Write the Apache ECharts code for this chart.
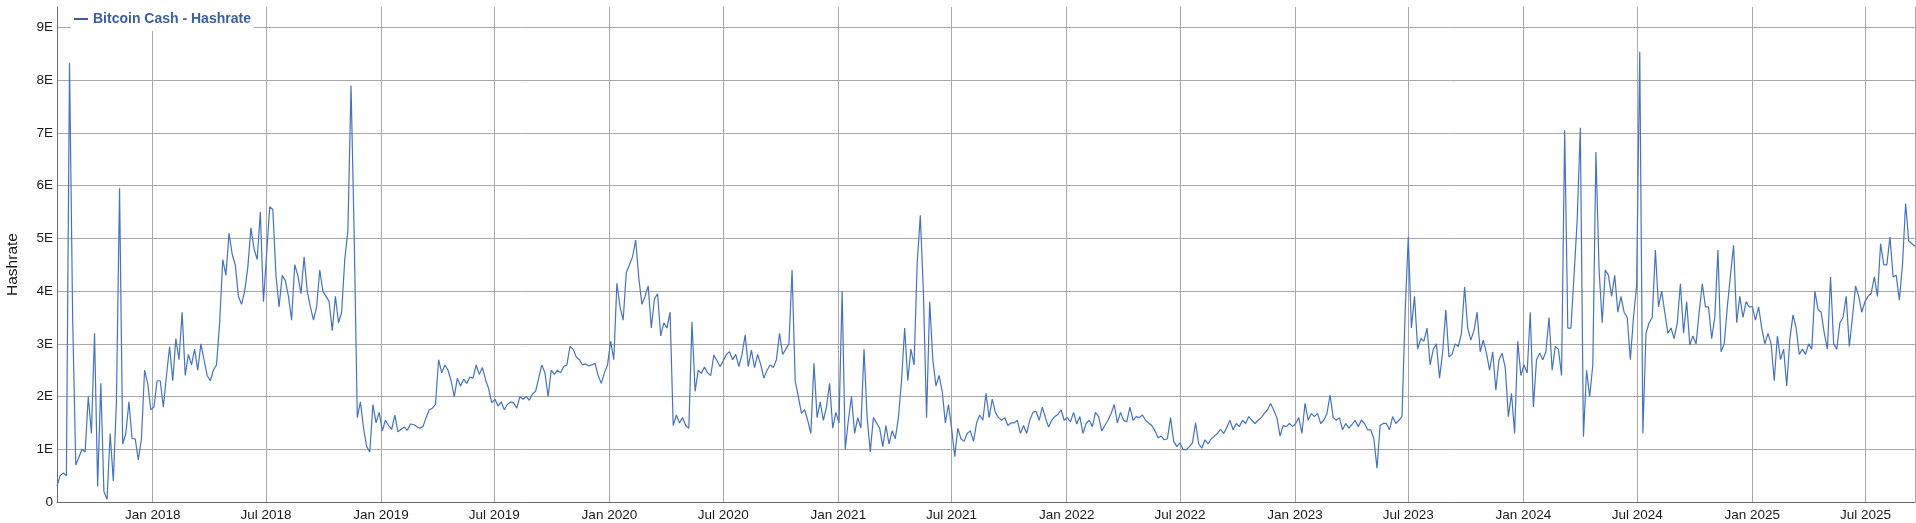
<!DOCTYPE html>
<html>
<head>
<meta charset="utf-8">
<script src="https://cdn.jsdelivr.net/npm/echarts@6/dist/echarts.min.js"></script>
<style>
html,body{margin:0;padding:0;background:#fff;}
#chart{width:1916px;height:523px;}
</style>
</head>
<body>
<div id="chart"></div>
<script>
// Bitcoin Cash hashrate (in E = 1e18 H/s), one value every 5 days from 2017-08-01
const seriesName = 'Bitcoin Cash - Hashrate';
const startDate = '2017-08-01';
const stepDays = 5;

const hashPartA = [0.3,0.5,0.55,0.5,8.33,3.5,0.7,0.85,1.0,0.95,
2.0,1.3,3.2,0.3,2.25,0.2,0.05,1.3,0.4,1.9,
5.95,1.1,1.3,1.9,1.2,1.2,0.8,1.2,2.5,2.25,
1.75,1.8,2.3,2.3,1.8,2.4,2.95,2.3,3.1,2.7,
3.6,2.4,2.8,2.6,2.9,2.5,3.0,2.7,2.4,2.3,
2.5,2.6,3.4,4.6,4.3,5.1,4.7,4.5,3.9,3.75,
4.0,4.45,5.2,4.8,4.6,5.5,3.8,4.7,5.6,5.55,
4.3,3.7,4.3];
const hashPartB = [4.2,3.9,3.45,4.5,4.3,3.95,4.65,
4.0,3.7,3.45,3.7,4.4,4.0,3.9,3.8,3.25,3.9,
3.4,3.6,4.6,5.15,7.9,5.1,1.6,1.9,1.4,1.05,
0.95,1.85,1.5,1.7,1.35,1.55,1.45,1.38,1.65,1.33,
1.38,1.42,1.36,1.48,1.47,1.43,1.4,1.43,1.6,1.75,
1.78,1.85,2.7,2.45,2.6,2.5,2.3,2.0,2.35,2.2,
2.33,2.25,2.37,2.35,2.6,2.42,2.55,2.32,2.15,1.88,
1.95,1.82,1.9,1.75,1.85,1.9];
const hashPartC = [1.88,1.78,2.0,1.95,
2.0,1.93,2.05,2.1,2.35,2.6,2.45,2.0,2.5,2.42,
2.5,2.45,2.57,2.6,2.95,2.9,2.75,2.7,2.6,2.62,
2.58,2.6,2.63,2.4,2.25,2.45,2.6,3.05,2.7,4.15,
3.7,3.45,4.35,4.5,4.65,4.97,4.25,3.75,3.9,4.1,
3.3,3.85,3.95,3.15,3.4,3.3,3.6,1.45,1.65,1.5,
1.6,1.45,1.4,3.42,2.1,2.5,2.44,2.56,2.45,2.4,
2.79,2.68,2.57,2.68,2.8,2.85,2.7,2.8,2.57];
const hashPartD = [2.8,
3.17,2.57,2.88,2.55,2.8,2.6,2.35,2.5,2.6,2.55,
2.7,3.2,2.8,2.9,3.0,4.4,2.3,2.0,1.68,1.75,
1.55,1.3,2.63,1.6,1.9,1.55,1.8,2.25,1.4,1.7,
1.5,4.0,1.0,1.55,2.0,1.3,1.6,1.4,2.9,1.6,
0.95,1.6,1.5,1.4,1.05,1.45,1.1,1.35,1.2,1.6,
2.3,3.3,2.3,2.9,2.6,4.53,5.44,3.95,1.6,3.8,
2.7,2.2,2.4,2.1,1.5,1.85,1.4,0.86,1.4,1.2,
1.15,1.3];
const hashPartE = [1.35,1.15,1.5,1.65,1.55,2.06,1.6,1.95,
1.7,1.6,1.55,1.6,1.45,1.5,1.5,1.55,1.3,1.45,
1.3,1.55,1.7,1.72,1.55,1.8,1.6,1.42,1.55,1.62,
1.66,1.75,1.55,1.6,1.52,1.7,1.48,1.62,1.3,1.49,
1.55,1.43,1.7,1.62,1.35,1.45,1.55,1.68,1.85,1.5,
1.7,1.55,1.52,1.8,1.55,1.62,1.6,1.65,1.55,1.5,
1.45,1.35,1.22,1.25,1.18,1.2,1.6,1.15,1.05,1.12,
1.0,0.99,1.05,1.12,1.5];
const hashPartF = [1.1,1.02,1.18,1.1,1.2,
1.25,1.3,1.38,1.3,1.42,1.55,1.37,1.49,1.43,1.55,
1.49,1.62,1.55,1.49,1.55,1.6,1.68,1.75,1.87,1.74,
1.6,1.25,1.45,1.43,1.49,1.43,1.49,1.6,1.3,1.87,
1.55,1.68,1.62,1.68,1.49,1.55,1.68,2.03,1.6,1.55,
1.6,1.37,1.49,1.4,1.47,1.55,1.43,1.55,1.49,1.37,
1.37,1.2,0.64,1.45,1.49,1.49,1.37,1.62,1.49,1.55,
1.62,3.6,5.03,3.3,3.9,2.9,3.1,3.05];
const hashPartG = [3.3,2.6,
2.9,3.0,2.35,2.85,3.64,2.75,2.8,3.0,2.95,3.2,
4.08,3.3,3.07,3.25,3.6,2.85,3.07,2.82,2.5,2.85,
2.12,2.7,2.82,2.55,1.62,2.06,1.3,3.05,2.4,2.6,
2.45,3.6,1.8,2.7,2.82,2.7,2.85,3.5,2.5,2.95,
2.9,2.4,7.05,3.3,3.3,4.3,5.35,7.1,1.24,2.5,
2.0,2.6,6.64,4.4,3.4,4.4,4.3,3.9,4.3,3.6,
3.9,3.6,3.5,2.7,3.5,4.1,8.54,1.3,3.2,3.4,
3.5];
const hashPartH = [4.78,3.7,4.0,3.6,3.2,3.3,3.1,3.4,4.14,
3.2,3.8,2.98,3.15,3.0,3.6,4.14,3.7,3.7,3.1,
3.5,4.78,2.85,3.0,3.7,4.3,4.87,3.4,3.9,3.5,
3.8,3.7,3.7,3.45,3.7,3.3,3.0,3.2,3.0,2.3,
3.15,2.7,2.9,2.2,3.1,3.55,3.3,2.8,2.9,2.8,
3.0,2.9,4.0,3.65,3.6,3.2,2.9,4.27,3.0,2.9,
3.4,3.5,3.9,2.95,3.5,4.1,3.9,3.6,3.8,3.9,
3.96,4.27,3.9,4.9,4.5,4.5,5.03,4.27,4.3,3.83,
4.5,5.66,4.95,4.9,4.85];

const xTickDates = ['2018-01-01','2018-07-01','2019-01-01','2019-07-01','2020-01-01','2020-07-01',
'2021-01-01','2021-07-01','2022-01-01','2022-07-01','2023-01-01','2023-07-01',
'2024-01-01','2024-07-01','2025-01-01','2025-07-01'];
const yTicks = [0,1,2,3,4,5,6,7,8,9];
const yMax = 9.39;
const monthNames = ['Jan','Feb','Mar','Apr','May','Jun','Jul','Aug','Sep','Oct','Nov','Dec'];

const values = [].concat(hashPartA, hashPartB, hashPartC, hashPartD, hashPartE, hashPartF, hashPartG, hashPartH);
const t0 = Date.parse(startDate + 'T00:00:00Z');
const DAY = 86400000;
const data = values.map((v, i) => [t0 + i * stepDays * DAY, v]);
const tickTimes = xTickDates.map(d => Date.parse(d + 'T00:00:00Z'));

const chart = echarts.init(document.getElementById('chart'), null, {renderer: 'canvas'});
const FONT = '"Liberation Sans", Arial, sans-serif';
chart.setOption({
  backgroundColor: '#ffffff',
  animation: false,
  textStyle: {fontFamily: FONT},
  grid: {left: 57, right: 1, top: 7, bottom: 21, containLabel: false, outerBoundsMode: 'none'},
  legend: {
    show: true,
    left: 71, top: 7,
    padding: [5, 3, 5, 3],
    backgroundColor: '#ffffff',
    icon: 'rect', itemWidth: 14, itemHeight: 2, itemGap: 10,
    textStyle: {fontFamily: FONT, fontSize: 14, fontWeight: 'bold', color: '#3b5fa6'},
    data: [{name: seriesName, itemStyle: {color: '#3b5fa6'}}]
  },
  xAxis: {
    type: 'value',
    min: data[0][0], max: data[data.length - 1][0],
    axisLine: {show: true, onZero: false, lineStyle: {color: '#6b6b6b', width: 1}},
    axisTick: {show: false, customValues: tickTimes},
    splitLine: {show: true, lineStyle: {color: '#a8a8a8', width: 1}},
    axisLabel: {
      customValues: tickTimes,
      margin: 6,
      fontSize: 13.5, color: '#1a1a1a', fontFamily: FONT,
      formatter: function (v) { const d = new Date(v); return monthNames[d.getUTCMonth()] + ' ' + d.getUTCFullYear(); }
    }
  },
  yAxis: [{
    type: 'value',
    min: 0, max: yMax, interval: 1,
    name: 'Hashrate', nameLocation: 'middle', nameGap: 36,
    nameTextStyle: {fontSize: 15.5, color: '#1a1a1a', fontFamily: FONT, padding: [0, 20, 0, 0]},
    axisLine: {show: true, lineStyle: {color: '#6b6b6b', width: 1}},
    axisTick: {show: false},
    splitLine: {show: true, showMaxLine: false, lineStyle: {color: '#a8a8a8', width: 1}},
    axisLabel: {
      margin: 4, fontSize: 13.5, color: '#1a1a1a', fontFamily: FONT,
      showMaxLabel: false,
      formatter: function (v) { if (yTicks.indexOf(v) < 0) return ''; return v === 0 ? '0' : v + 'E'; }
    }
  }, {
    type: 'value', position: 'right',
    min: 0, max: yMax,
    axisLine: {show: true, lineStyle: {color: '#a8a8a8', width: 1}},
    axisTick: {show: false}, axisLabel: {show: false}, splitLine: {show: false}
  }],
  series: [{
    name: seriesName,
    type: 'line',
    data: data,
    yAxisIndex: 0,
    showSymbol: false,
    symbol: 'none',
    sampling: null,
    lineStyle: {color: '#4472c4', width: 1.2},
    itemStyle: {color: '#4472c4'},
    emphasis: {disabled: true}
  }]
});
</script>
</body>
</html>
